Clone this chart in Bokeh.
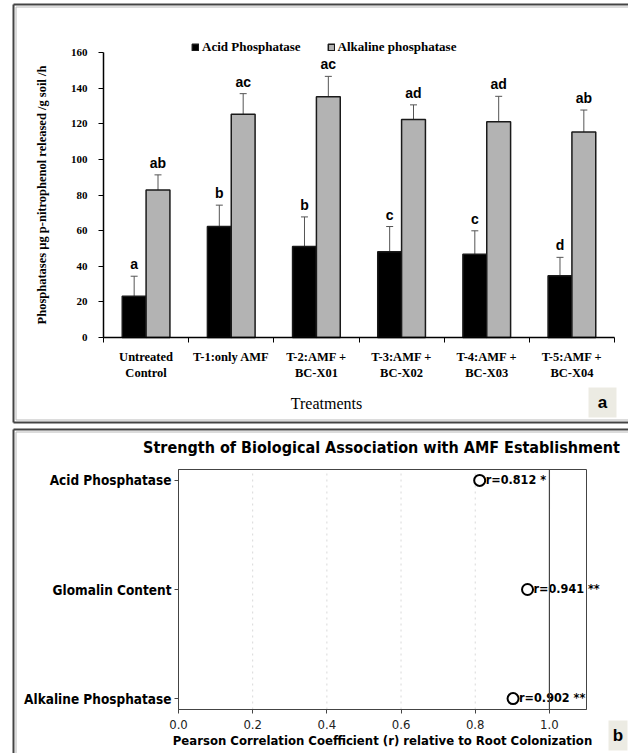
import numpy as np
from bokeh.plotting import figure
from bokeh.models import (Range1d, FixedTicker, ColumnDataSource, Legend, LegendItem,
                          Whisker, TeeHead, NumeralTickFormatter)
from bokeh.layouts import column
from bokeh.embed import file_html
from bokeh.resources import INLINE
from bokeh.core.properties import value

# ---------------- data: panel a ----------------
treatments = ["Untreated\nControl", "T-1:only AMF", "T-2:AMF +\nBC-X01",
              "T-3:AMF +\nBC-X02", "T-4:AMF +\nBC-X03", "T-5:AMF +\nBC-X04"]
acid_mean = [23.2, 62.3, 51.1, 48.1, 46.8, 34.6]
acid_err = [11.2, 12.0, 16.6, 14.2, 13.1, 10.4]
acid_letters = ["a", "b", "b", "c", "c", "d"]
alk_mean = [82.8, 125.4, 135.2, 122.4, 121.1, 115.3]
alk_err = [8.5, 11.5, 11.4, 8.2, 14.3, 12.4]
alk_letters = ["ab", "ac", "ac", "ad", "ad", "ab"]
y_ticks_a = [0, 20, 40, 60, 80, 100, 120, 140, 160]

# ---------------- data: panel b ----------------
variables = ["Acid Phosphatase", "Glomalin Content", "Alkaline Phosphatase"]
r_values = [0.812, 0.941, 0.902]
signif = ["*", "**", "**"]
x_ticks_b = [0.0, 0.2, 0.4, 0.6, 0.8, 1.0]
grid_b = [0.2, 0.4, 0.6, 0.8]

SERIF = "Liberation Serif"
SANS = "Liberation Sans"
DJC = "DejaVu Sans Condensed, DejaVu Sans"
DARK = "#444444"
LIGHT = "#b8b8b8"
BOXBG = "#ecebe3"

W = 628
# ================= panel a (page px geometry) =================
H1 = 426
FX0, FX1 = 103, 614
FY_TOP, FY0 = 52, 337
NCAT = len(treatments)
XPU = (FX1 - FX0) / NCAT
PXU = (FY0 - FY_TOP) / 160.0


def dx1(px):
    return (px - FX0) / XPU


def dy1(py):
    return (FY0 - py) / PXU


p1 = figure(width=W, height=H1, x_range=Range1d(dx1(0), dx1(W)),
            y_range=Range1d(dy1(H1), dy1(0)),
            output_backend="svg", toolbar_location=None,
            min_border=0, min_border_left=0, min_border_right=0,
            min_border_top=0, min_border_bottom=0)
p1.outline_line_color = None
p1.grid.visible = False
p1.background_fill_color = "white"
p1.border_fill_color = "white"

# panel border
p1.segment(x0=[dx1(13), dx1(13), dx1(13)], y0=[dy1(4), dy1(4), dy1(422)],
           x1=[dx1(13), dx1(640), dx1(640)], y1=[dy1(422), dy1(4), dy1(422)],
           line_color=DARK, line_width=2)
p1.segment(x0=[dx1(15.5), dx1(15.5), dx1(15.5)], y0=[dy1(6.5), dy1(6.5), dy1(419.5)],
           x1=[dx1(15.5), dx1(640), dx1(640)], y1=[dy1(419.5), dy1(6.5), dy1(419.5)],
           line_color=LIGHT, line_width=1)

idx = np.arange(NCAT)
xc = idx + 0.5
bw = 0.28
acid = ColumnDataSource(dict(x=xc - bw / 2, top=acid_mean,
                             upper=np.array(acid_mean) + np.array(acid_err),
                             lower=np.array(acid_mean) - np.array(acid_err),
                             lab=acid_letters))
alk = ColumnDataSource(dict(x=xc + bw / 2, top=alk_mean,
                            upper=np.array(alk_mean) + np.array(alk_err),
                            lower=np.array(alk_mean) - np.array(alk_err),
                            lab=alk_letters))

p1.add_layout(Whisker(base="x", upper="upper", lower="lower", source=acid, level="underlay",
                      line_color="#555555", line_width=1,
                      upper_head=TeeHead(size=7, line_color="#555555", line_width=1),
                      lower_head=TeeHead(size=7, line_color="#555555", line_width=1)))

r_acid = p1.vbar(x="x", top="top", width=bw, bottom=0, source=acid,
                 fill_color="black", line_color="#1a1a1a", line_width=1.5)
r_alk = p1.vbar(x="x", top="top", width=bw, bottom=0, source=alk,
                fill_color="#b3b3b3", line_color="#1a1a1a", line_width=1.5)

p1.add_layout(Whisker(base="x", upper="upper", lower="lower", source=alk,
                      line_color="#555555", line_width=1,
                      upper_head=TeeHead(size=7, line_color="#555555", line_width=1),
                      lower_head=TeeHead(size=7, line_color="#555555", line_width=1)))

for src in (acid, alk):
    p1.text(x="x", y="upper", text="lab", source=src, y_offset=-4,
            text_align="center", text_baseline="bottom",
            text_font=value(SANS), text_font_style="bold", text_font_size="14px",
            text_color="black")

legend = Legend(items=[LegendItem(label="Acid Phosphatase", renderers=[r_acid]),
                       LegendItem(label="Alkaline phosphatase", renderers=[r_alk])],
                orientation="horizontal", location=(191, H1 - 55),
                glyph_width=8, glyph_height=8, label_standoff=3, spacing=26,
                padding=0, margin=0, label_height=14,
                background_fill_alpha=0, border_line_color=None,
                label_text_font=SERIF, label_text_font_style="bold",
                label_text_font_size="13px", label_text_color="black")
p1.add_layout(legend)

xa = p1.xaxis[0]
xa.fixed_location = 0
xa.bounds = (0, NCAT)
xa.ticker = FixedTicker(ticks=list(xc), minor_ticks=list(range(NCAT + 1)))
xa.major_label_overrides = {float(x): t for x, t in zip(xc, treatments)}
xa.major_tick_out = 0
xa.major_tick_in = 0
xa.major_tick_line_color = None
xa.minor_tick_out = 5
xa.minor_tick_in = 0
xa.minor_tick_line_color = "black"
xa.axis_line_color = "black"
xa.axis_line_width = 1.5
xa.major_label_standoff = 7
xa.major_label_text_font = SERIF
xa.major_label_text_font_style = "bold"
xa.major_label_text_font_size = "12.5px"
xa.major_label_text_color = "black"

ya = p1.yaxis[0]
ya.fixed_location = 0
ya.bounds = (0, 160)
ya.ticker = FixedTicker(ticks=y_ticks_a, minor_ticks=[])
ya.major_tick_out = 5
ya.major_tick_in = 0
ya.minor_tick_line_color = None
ya.axis_line_color = "black"
ya.axis_line_width = 1.5
ya.major_tick_line_color = "black"
ya.major_label_standoff = 11
ya.major_label_text_font = SERIF
ya.major_label_text_font_style = "bold"
ya.major_label_text_font_size = "11px"
ya.major_label_text_color = "black"
ya.axis_label = "Phosphatases \u00b5g p-nitrophenol released /g soil /h"
ya.axis_label_text_font = SERIF
ya.axis_label_text_font_style = "bold"
ya.axis_label_text_font_size = "12.5px"
ya.axis_label_text_color = "black"
ya.axis_label_standoff = 19

p1.text(x=[dx1(326)], y=[dy1(403)], text=["Treatments"], text_align="center",
        text_baseline="middle", text_font=value(SERIF), text_font_size="16px",
        text_color="black")
p1.quad(left=dx1(588), right=dx1(616), top=dy1(387), bottom=dy1(417),
        fill_color=BOXBG, line_color=None)
p1.text(x=[dx1(602)], y=[dy1(402)], text=["a"], text_align="center",
        text_baseline="middle", text_font=value(SANS), text_font_style="bold",
        text_font_size="17px", text_color="black")

# ================= panel b =================
H2 = 753 - H1
TOP2 = H1
BX0, BX1 = 178, 586
BY_TOP, BY_BOT = 469, 709
YLO, YHI = -0.1, len(variables) - 1 + 0.1
XMAX = 1.1


def dx2(px):
    return (px - BX0) / ((BX1 - BX0) / XMAX)


def dy2(py):
    return YHI - (py - BY_TOP) / ((BY_BOT - BY_TOP) / (YHI - YLO))


p2 = figure(width=W, height=H2, x_range=Range1d(dx2(0), dx2(W)),
            y_range=Range1d(dy2(753), dy2(TOP2)),
            output_backend="svg", toolbar_location=None,
            min_border=0, min_border_left=0, min_border_right=0,
            min_border_top=0, min_border_bottom=0)
p2.background_fill_color = "white"
p2.border_fill_color = "white"
p2.outline_line_color = None
p2.grid.visible = False

# panel border
p2.segment(x0=[dx2(13), dx2(13)], y0=[dy2(429), dy2(429)],
           x1=[dx2(13), dx2(640)], y1=[dy2(770), dy2(429)],
           line_color=DARK, line_width=2)
p2.segment(x0=[dx2(15.5), dx2(15.5)], y0=[dy2(431.5), dy2(431.5)],
           x1=[dx2(15.5), dx2(640)], y1=[dy2(770), dy2(431.5)],
           line_color=LIGHT, line_width=1)

# plot box + faint vertical grid
p2.segment(x0=grid_b, y0=[YLO] * len(grid_b), x1=grid_b, y1=[YHI] * len(grid_b),
           line_color="#d9d9d9", line_dash="dotted", line_width=1)
p2.quad(left=0, right=XMAX, bottom=YLO, top=YHI, fill_color=None,
        line_color=DARK, line_width=1)

ypos = [len(variables) - 1 - i for i in range(len(variables))]
labels_b = [f"r={r:.3f} {s}" for r, s in zip(r_values, signif)]
src_b = ColumnDataSource(dict(r=r_values, y=ypos, lab=labels_b))

p2.scatter(x="r", y="y", source=src_b, marker="circle", size=11,
           fill_color="white", line_color="black", line_width=2)
p2.text(x="r", y="y", text="lab", source=src_b, x_offset=6, y_offset=-1,
        text_baseline="middle", text_align="left",
        text_font=value(DJC), text_font_style="bold",
        text_font_size="12.5px", text_color="black")
p2.segment(x0=[1.0], y0=[YLO], x1=[1.0], y1=[YHI], line_color=DARK, line_width=1.2)

xb = p2.xaxis[0]
xb.fixed_location = YLO
xb.bounds = (0, XMAX)
xb.ticker = FixedTicker(ticks=x_ticks_b, minor_ticks=[])
xb.formatter = NumeralTickFormatter(format="0.0")
xb.major_tick_out = 4
xb.major_tick_in = 0
xb.minor_tick_line_color = None
xb.axis_line_color = DARK
xb.major_tick_line_color = DARK
xb.major_label_standoff = 6
xb.major_label_text_font = DJC
xb.major_label_text_font_size = "13px"
xb.major_label_text_color = "#222222"
xb.axis_label = "Pearson Correlation Coefficient (r) relative to Root Colonization"
xb.axis_label_text_font = DJC
xb.axis_label_text_font_style = "bold"
xb.axis_label_text_font_size = "13px"
xb.axis_label_text_color = "black"
xb.axis_label_standoff = 1

yb = p2.yaxis[0]
yb.fixed_location = 0
yb.bounds = (YLO, YHI)
yb.ticker = FixedTicker(ticks=ypos, minor_ticks=[])
yb.major_label_overrides = {int(y): v for y, v in zip(ypos, variables)}
yb.major_tick_out = 4
yb.major_tick_in = 0
yb.minor_tick_line_color = None
yb.axis_line_color = DARK
yb.major_tick_line_color = DARK
yb.major_label_standoff = 3
yb.major_label_text_font = DJC
yb.major_label_text_font_style = "bold"
yb.major_label_text_font_size = "13.5px"
yb.major_label_text_color = "black"

p2.text(x=[dx2(381)], y=[dy2(447)],
        text=["Strength of Biological Association with AMF Establishment"],
        text_align="center", text_baseline="middle", text_font=value(DJC),
        text_font_style="bold", text_font_size="16px", text_color="black")
p2.quad(left=dx2(608), right=dx2(627), top=dy2(720), bottom=dy2(750),
        fill_color=BOXBG, line_color=None)
p2.text(x=[dx2(617.5)], y=[dy2(735)], text=["b"], text_align="center",
        text_baseline="middle", text_font=value(SANS), text_font_style="bold",
        text_font_size="17px", text_color="black")

layout = column(p1, p2, spacing=0)
open("out.html", "w").write(file_html(layout, INLINE))
